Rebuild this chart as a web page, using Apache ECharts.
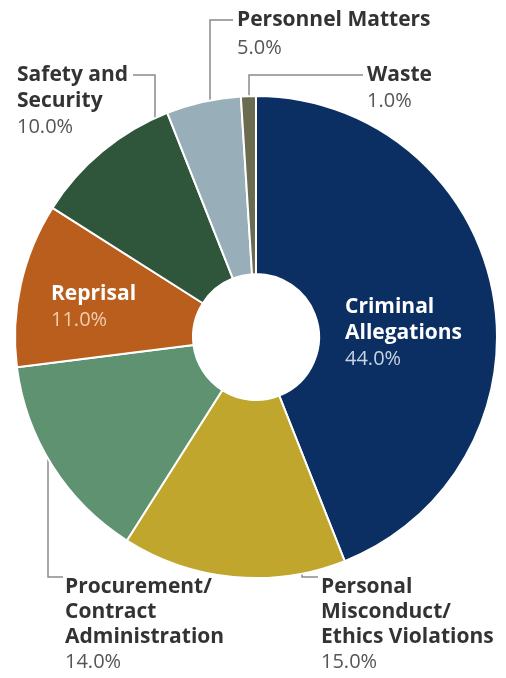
<!DOCTYPE html>
<html><head><meta charset="utf-8">
<script src="https://cdn.jsdelivr.net/npm/echarts@6/dist/echarts.min.js"></script>
<style>html,body{margin:0;padding:0;background:#fff}#c{width:506px;height:678px}</style>
</head><body><div id="c"></div>
<script>
const categories = ['Criminal\nAllegations','Personal\nMisconduct/\nEthics Violations','Procurement/\nContract\nAdministration','Reprisal','Safety and\nSecurity','Personnel Matters','Waste'];
const values = [44.0, 15.0, 14.0, 11.0, 10.0, 5.0, 1.0];
const colors = ['#0b2f63','#c0a62c','#5f9270','#b95e1d','#2f553b','#98aeb9','#6b6b50'];
const insideLabels = [0, 3];

const layouts = {
  0: {x:345, y:294, lh:26},
  1: {x:321, y:575, lh:25, pts:[[302,574],[302,577],[318,577]]},
  2: {x:65,  y:575, lh:25, pts:[[48,459],[48,577],[63,577]]},
  3: {x:51,  y:281, lh:26},
  4: {x:17,  y:62,  lh:26, pts:[[155,118],[155,75],[133,75]]},
  5: {x:237, y:6,   lh:28, pts:[[210,100],[210,20],[233,20]]},
  6: {x:367, y:62,  lh:26, pts:[[249,96],[249,75],[363,75]]}
};

const chart = echarts.init(document.getElementById('c'));
const font = 'Open Sans';
function rich(i){
  const inside = insideLabels.includes(i);
  const lh = layouts[i].lh;
  return {
    n:{fontFamily:font,fontWeight:'bold',fontSize:21,color: inside?'#ffffff':'#333333',lineHeight:lh},
    p:{fontFamily:font,fontWeight:'normal',fontSize:20,color: inside?(i===0?'#c9d2e2':'#f2cdb0'):'#555555',lineHeight:lh}
  };
}
const data = values.map((v,i)=>({
  name: categories[i], value: v,
  itemStyle:{color:colors[i]},
  label:{rich: rich(i)},
  labelLine:{show: !insideLabels.includes(i)}
}));
chart.setOption({
  animation:false,
  series:[{
    type:'pie',
    center:[256,337],
    radius:[63,241],
    startAngle:90,
    clockwise:true,
    avoidLabelOverlap:false,
    minShowLabelAngle:0,
    itemStyle:{borderColor:'#ffffff',borderWidth:2},
    label:{
      show:true,
      position:'outside',
      align:'left',
      overflow:'none',
      formatter: p => p.name.split('\n').map(l=>'{n|'+l+'}').join('\n') + '\n{p|' + p.value.toFixed(1) + '%}'
    },
    labelLine:{show:true,lineStyle:{color:'#8a8a8a',width:1.5}},
    labelLayout: function(params){
      const L = layouts[params.dataIndex];
      const o = {x:L.x, y:L.y, align:'left', verticalAlign:'top', hideOverlap:false, moveOverlap:null};
      if (L.pts) o.labelLinePoints = L.pts;
      return o;
    },
    data: data
  }]
});
</script>
</body></html>
